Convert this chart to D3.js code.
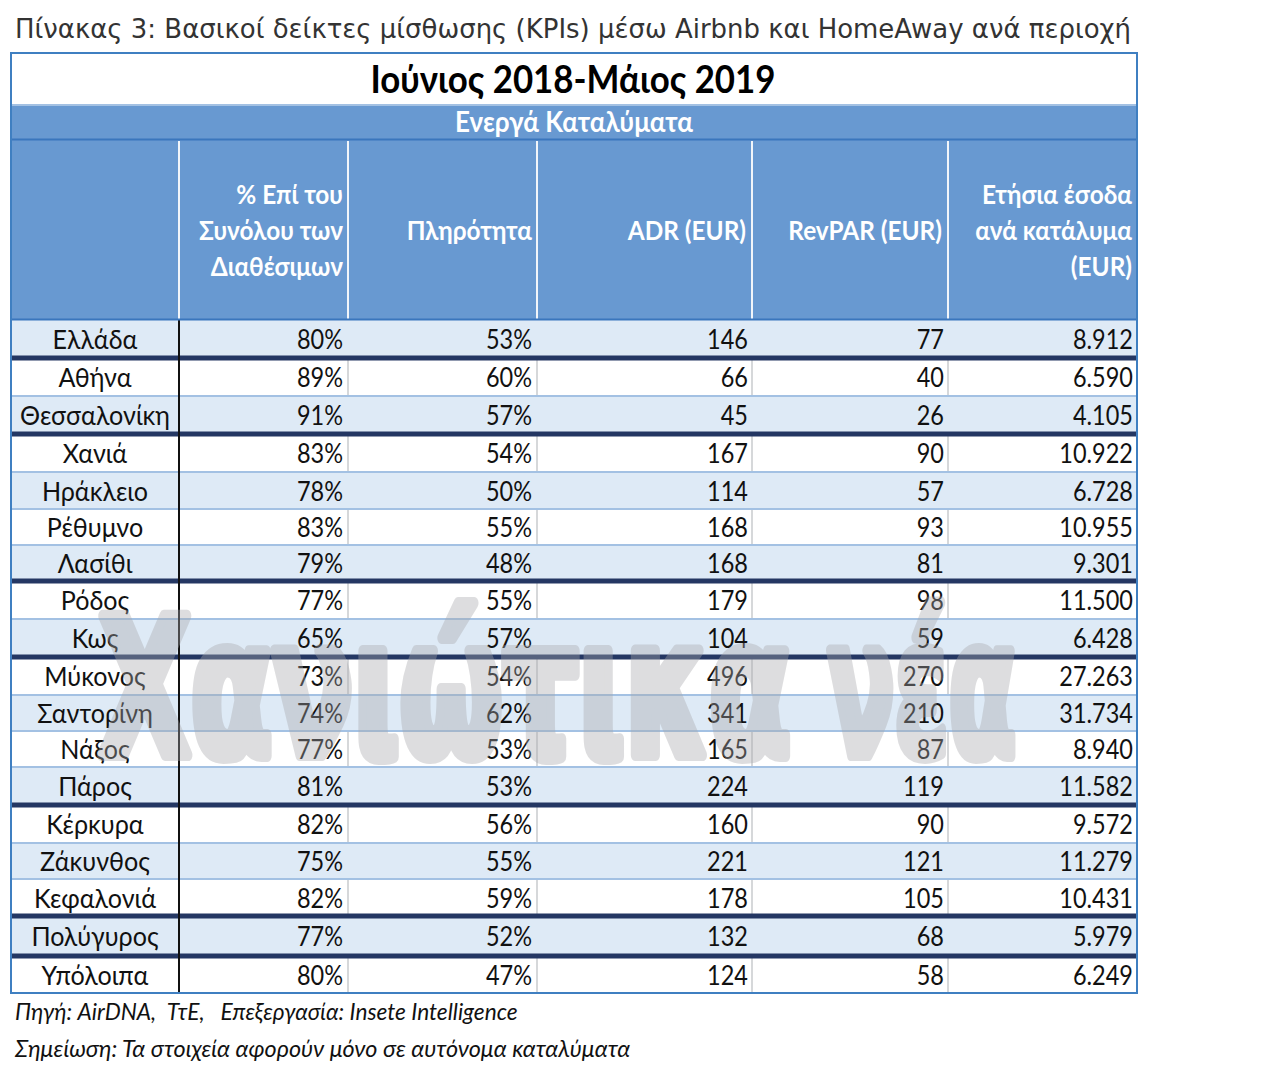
<!DOCTYPE html>
<html lang="el"><head><meta charset="utf-8">
<script src="https://cdn.jsdelivr.net/npm/d3@7"></script>
<style>html,body{margin:0;padding:0;background:#fff}svg{display:block}</style>
</head><body><svg id="c" width="1280" height="1080"></svg>
<script>
const pageTitle = "Πίνακας 3: Βασικοί δείκτες μίσθωσης (KPIs) μέσω Airbnb και HomeAway ανά περιοχή";
const period = "Ιούνιος 2018-Μάιος 2019";
const band = "Ενεργά Καταλύματα";
const headers = [
  ["% Επί του","Συνόλου των","Διαθέσιμων"],
  ["Πληρότητα"],
  ["ADR (EUR)"],
  ["RevPAR (EUR)"],
  ["Ετήσια έσοδα","ανά κατάλυμα","(EUR)"]
];
const regions = ["Ελλάδα","Αθήνα","Θεσσαλονίκη","Χανιά","Ηράκλειο","Ρέθυμνο","Λασίθι","Ρόδος","Κως","Μύκονος","Σαντορίνη","Νάξος","Πάρος","Κέρκυρα","Ζάκυνθος","Κεφαλονιά","Πολύγυρος","Υπόλοιπα"];
const share = ["80%","89%","91%","83%","78%","83%","79%","77%","65%","73%","74%","77%","81%","82%","75%","82%","77%","80%"];
const occupancy = ["53%","60%","57%","54%","50%","55%","48%","55%","57%","54%","62%","53%","53%","56%","55%","59%","52%","47%"];
const adr = ["146","66","45","167","114","168","168","179","104","496","341","165","224","160","221","178","132","124"];
const revpar = ["77","40","26","90","57","93","81","98","59","270","210","87","119","90","121","105","68","58"];
const income = ["8.912","6.590","4.105","10.922","6.728","10.955","9.301","11.500","6.428","27.263","31.734","8.940","11.582","9.572","11.279","10.431","5.979","6.249"];
const groupEnds = [0,2,6,8,12,15,16];
const source = "Πηγή: AirDNA,  ΤτΕ,   Επεξεργασία: Insete Intelligence";
const note = "Σημείωση: Τα στοιχεία αφορούν μόνο σε αυτόνομα καταλύματα";
const watermarkWords = ["Χανιώτικα","νέα"];

const columns = [share, occupancy, adr, revpar, income];
const bodyFont = "Lato, 'Noto Sans', sans-serif";
const svg = d3.select("#c");

const L = 11, R = 1137, T = 53, B = 993;
const colEdge = d3.scaleOrdinal().domain([0,1,2,3,4,5]).range([179,348,537,752,948,1137]);
const rowEdges = [320,358,396,434,472,509,545,581,619,657,695,731,767,805,843,879,916,956,994];
const y = d3.scaleLinear().domain(rowEdges.map((_,i)=>i)).range(rowEdges);
const midY = i => (y(i)+y(i+1))/2;
const rowIdx = d3.range(regions.length);

// condensed text: x is divided by the horizontal scale so the anchor stays put
const squeeze = (sel, sx, xOf, yOf) => sel
  .attr("x",(d,i)=>xOf(d,i)/sx).attr("y",0)
  .attr("transform",(d,i)=>`translate(0,${yOf(d,i)}) scale(${sx},1)`);

// backgrounds
svg.append("rect").attr("x",L).attr("y",T).attr("width",R-L).attr("height",B-T).attr("fill","#fff");
svg.append("rect").attr("x",L).attr("y",105).attr("width",R-L).attr("height",215).attr("fill","#6899d1");
svg.selectAll("rect.row").data(rowIdx).join("rect").attr("class","row")
  .attr("x",L).attr("width",R-L).attr("y",i=>y(i)).attr("height",i=>y(i+1)-y(i))
  .attr("fill",i=>i%2===0?"#deeaf6":"#fff");

// thin grey column separators
svg.selectAll("line.cs").data([1,2,3,4]).join("line").attr("class","cs")
  .attr("x1",c=>colEdge(c)).attr("x2",c=>colEdge(c)).attr("y1",320).attr("y2",B)
  .attr("stroke","#d6d8da").attr("stroke-width",2);
// pale rows overlay the grey lines
svg.selectAll("rect.row2").data(rowIdx.filter(i=>i%2===0)).join("rect").attr("class","row2")
  .attr("x",L).attr("width",R-L).attr("y",i=>y(i)).attr("height",i=>y(i+1)-y(i)).attr("fill","#deeaf6");

// row separators
svg.selectAll("line.rs").data(rowIdx.slice(0,-1)).join("line").attr("class","rs")
  .attr("x1",L).attr("x2",R).attr("y1",i=>y(i+1)).attr("y2",i=>y(i+1))
  .attr("stroke",i=>groupEnds.includes(i)?"#243763":"#a3c1e3")
  .attr("stroke-width",i=>groupEnds.includes(i)?5:2);

// black first-column rule
svg.append("line").attr("x1",179).attr("x2",179).attr("y1",320).attr("y2",B).attr("stroke","#111").attr("stroke-width",2);
// header separators
svg.selectAll("line.hs").data([0,1,2,3,4]).join("line").attr("class","hs")
  .attr("x1",c=>colEdge(c)).attr("x2",c=>colEdge(c)).attr("y1",141).attr("y2",319)
  .attr("stroke","#f1f5fa").attr("stroke-width",2);
// header rules
svg.selectAll("line.hr").data([105,139.5,319.5]).join("line").attr("class","hr")
  .attr("x1",L).attr("x2",R).attr("y1",d=>d).attr("y2",d=>d)
  .attr("stroke",(d,i)=>i===0?"#a3c1e3":"#3a76bd").attr("stroke-width",2);
// outline
svg.append("rect").attr("x",L).attr("y",T).attr("width",R-L).attr("height",B-T)
  .attr("fill","none").attr("stroke","#3f7fc1").attr("stroke-width",2);

// texts
svg.append("text").attr("x",15).attr("y",38).attr("font-family","'DejaVu Sans'").attr("font-size",26)
  .attr("fill","#333").attr("textLength",1116).attr("lengthAdjust","spacingAndGlyphs").text(pageTitle);
svg.append("text").data([0]).call(squeeze,0.93,()=>573,()=>93).attr("text-anchor","middle")
  .attr("font-family",bodyFont).attr("font-weight",700).attr("font-size",37.5).attr("fill","#000").text(period);
svg.append("text").data([0]).call(squeeze,0.93,()=>574,()=>132).attr("text-anchor","middle")
  .attr("font-family",bodyFont).attr("font-weight",700).attr("font-size",28).attr("fill","#fff").text(band);

const hdrRight = [343,532,746,942,1132];
headers.forEach((lines,c)=>{
  svg.append("g").selectAll("text").data(lines).join("text")
    .call(squeeze,0.92,()=>hdrRight[c],(d,i)=>240 + (i-(lines.length-1)/2)*36)
    .attr("text-anchor","end")
    .attr("font-family",bodyFont).attr("font-weight",700).attr("font-size",26.5).attr("fill","#fff").text(d=>d);
});

svg.append("g").selectAll("text").data(regions).join("text")
  .call(squeeze,0.93,()=>95,(d,i)=>midY(i)+10).attr("text-anchor","middle")
  .attr("font-family",bodyFont).attr("font-size",27).attr("fill","#111").text(d=>d);

const valRight = [343,532,748,944,1133];
columns.forEach((vals,c)=>{
  svg.append("g").selectAll("text").data(vals).join("text")
    .call(squeeze,0.87,()=>valRight[c],(d,i)=>midY(i)+10).attr("text-anchor","end")
    .attr("font-family",bodyFont).attr("font-size",27).attr("fill","#111").text(d=>d);
});

svg.append("text").attr("x",15).attr("y",1020).attr("font-family",bodyFont).attr("font-style","italic")
  .attr("font-size",22.7).attr("fill","#111").style("white-space","pre").text(source);
svg.append("text").attr("x",15).attr("y",1057).attr("font-family",bodyFont).attr("font-style","italic")
  .attr("font-size",23.4).attr("fill","#111").text(note);

// watermark: each word is fitted to its span
const wmSpan = d3.scaleOrdinal().domain(watermarkWords).range([[99,791],[828,1016]]);
watermarkWords.forEach(word=>{
  const [x0,x1] = wmSpan(word);
  const wm = svg.append("text").attr("x",0).attr("y",0)
    .attr("font-family","'DejaVu Sans Condensed','DejaVu Sans'").attr("font-weight",700)
    .attr("font-size",190).attr("fill","#a8a8ac").attr("stroke","#a8a8ac").attr("stroke-width",12)
    .attr("stroke-linejoin","round").attr("opacity",0.38).text(word);
  const w = wm.node().getComputedTextLength();
  wm.attr("transform",`translate(${x0},755) scale(${(x1-x0)/w},1)`);
});
</script></body></html>
